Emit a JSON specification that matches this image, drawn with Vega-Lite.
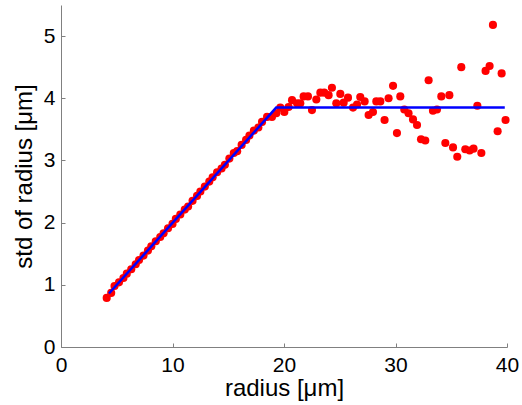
{
  "$schema": "https://vega.github.io/schema/vega-lite/v6.json",
  "autosize": {"type": "none"},
  "padding": {"left": 61, "top": 5, "right": 15, "bottom": 58},
  "width": 446,
  "height": 342,
  "config": {
    "view": {"stroke": null},
    "font": "Liberation Sans",
    "axis": {
      "grid": false,
      "domainColor": "#808080",
      "tickColor": "#808080",
      "domainWidth": 1,
      "tickWidth": 1,
      "tickSize": -4,
      "labelFont": "Liberation Sans",
      "labelFontSize": 21,
      "labelColor": "#000000",
      "titleFont": "Liberation Sans",
      "titleFontSize": 24,
      "titleFontWeight": "normal",
      "titleColor": "#000000"
    }
  },
  "datasets": {
    "pts": [
      {"r": 4.1, "s": 0.79}, {"r": 4.5, "s": 0.87}, {"r": 4.8, "s": 0.98}, {"r": 5.2, "s": 1.04},
      {"r": 5.6, "s": 1.11}, {"r": 5.9, "s": 1.18}, {"r": 6.3, "s": 1.25}, {"r": 6.7, "s": 1.33},
      {"r": 7.0, "s": 1.40}, {"r": 7.4, "s": 1.47}, {"r": 7.8, "s": 1.55}, {"r": 8.1, "s": 1.62},
      {"r": 8.5, "s": 1.70}, {"r": 8.9, "s": 1.77}, {"r": 9.2, "s": 1.83}, {"r": 9.6, "s": 1.91},
      {"r": 10.0, "s": 1.98}, {"r": 10.3, "s": 2.06}, {"r": 10.7, "s": 2.13}, {"r": 11.1, "s": 2.21},
      {"r": 11.4, "s": 2.26}, {"r": 11.8, "s": 2.35}, {"r": 12.2, "s": 2.43}, {"r": 12.5, "s": 2.50},
      {"r": 12.9, "s": 2.58}, {"r": 13.3, "s": 2.66}, {"r": 13.6, "s": 2.73}, {"r": 14.0, "s": 2.81},
      {"r": 14.4, "s": 2.87}, {"r": 14.7, "s": 2.93}, {"r": 15.1, "s": 3.03}, {"r": 15.5, "s": 3.12},
      {"r": 15.8, "s": 3.15}, {"r": 16.2, "s": 3.25}, {"r": 16.6, "s": 3.33}, {"r": 16.9, "s": 3.40},
      {"r": 17.3, "s": 3.48}, {"r": 17.7, "s": 3.53}, {"r": 18.03, "s": 3.62}, {"r": 18.48, "s": 3.70},
      {"r": 18.92, "s": 3.70}, {"r": 19.31, "s": 3.76}, {"r": 19.67, "s": 3.85}, {"r": 20.03, "s": 3.78},
      {"r": 20.41, "s": 3.86}, {"r": 20.72, "s": 3.97}, {"r": 21.17, "s": 3.92}, {"r": 21.46, "s": 3.92},
      {"r": 21.76, "s": 4.03}, {"r": 22.15, "s": 4.03}, {"r": 22.51, "s": 3.81}, {"r": 22.90, "s": 3.98},
      {"r": 23.26, "s": 4.09}, {"r": 23.61, "s": 4.09}, {"r": 24.0, "s": 4.05}, {"r": 24.30, "s": 4.17},
      {"r": 24.69, "s": 3.92}, {"r": 25.05, "s": 4.07}, {"r": 25.35, "s": 3.93}, {"r": 25.74, "s": 4.01},
      {"r": 26.19, "s": 3.85}, {"r": 26.55, "s": 3.90}, {"r": 26.84, "s": 4.02}, {"r": 27.23, "s": 3.95},
      {"r": 27.59, "s": 3.73}, {"r": 27.98, "s": 3.78}, {"r": 28.28, "s": 3.95}, {"r": 28.64, "s": 3.95},
      {"r": 29.02, "s": 3.65}, {"r": 29.38, "s": 4.00}, {"r": 29.78, "s": 4.20}, {"r": 30.13, "s": 3.44},
      {"r": 30.43, "s": 4.03}, {"r": 30.79, "s": 3.82}, {"r": 31.17, "s": 3.76}, {"r": 31.57, "s": 3.66},
      {"r": 31.93, "s": 3.57}, {"r": 32.29, "s": 3.34}, {"r": 32.67, "s": 3.32}, {"r": 32.97, "s": 4.29},
      {"r": 33.36, "s": 3.80}, {"r": 33.72, "s": 3.82}, {"r": 34.11, "s": 4.03}, {"r": 34.47, "s": 3.28},
      {"r": 34.83, "s": 4.05}, {"r": 35.16, "s": 3.21}, {"r": 35.54, "s": 3.06}, {"r": 35.90, "s": 4.50},
      {"r": 36.26, "s": 3.18}, {"r": 36.65, "s": 3.16}, {"r": 37.0, "s": 3.19}, {"r": 37.34, "s": 3.88},
      {"r": 37.70, "s": 3.12}, {"r": 38.08, "s": 4.44}, {"r": 38.44, "s": 4.52}, {"r": 38.74, "s": 5.18},
      {"r": 39.16, "s": 3.47}, {"r": 39.52, "s": 4.40}, {"r": 39.87, "s": 3.65}
    ],
    "fit": [
      {"r": 4.3, "s": 0.86},
      {"r": 19.3, "s": 3.85},
      {"r": 39.8, "s": 3.85}
    ]
  },
  "encoding": {
    "x": {
      "field": "r", "type": "quantitative",
      "scale": {"domain": [0, 40], "nice": false, "zero": false},
      "axis": {"title": "radius [μm]", "values": [0, 10, 20, 30, 40], "labelPadding": 11, "titlePadding": 1, "labelFlush": false}
    },
    "y": {
      "field": "s", "type": "quantitative",
      "scale": {"domain": [0, 5.5], "nice": false, "zero": false},
      "axis": {"title": "std of radius [μm]", "values": [0, 1, 2, 3, 4, 5], "labelPadding": 10, "titlePadding": 7}
    }
  },
  "layer": [
    {
      "data": {"name": "pts"},
      "mark": {"type": "circle", "color": "#ff0000", "opacity": 1, "size": 66}
    },
    {
      "data": {"name": "fit"},
      "mark": {"type": "line", "color": "#0000ff", "strokeWidth": 2.5}
    }
  ]
}
